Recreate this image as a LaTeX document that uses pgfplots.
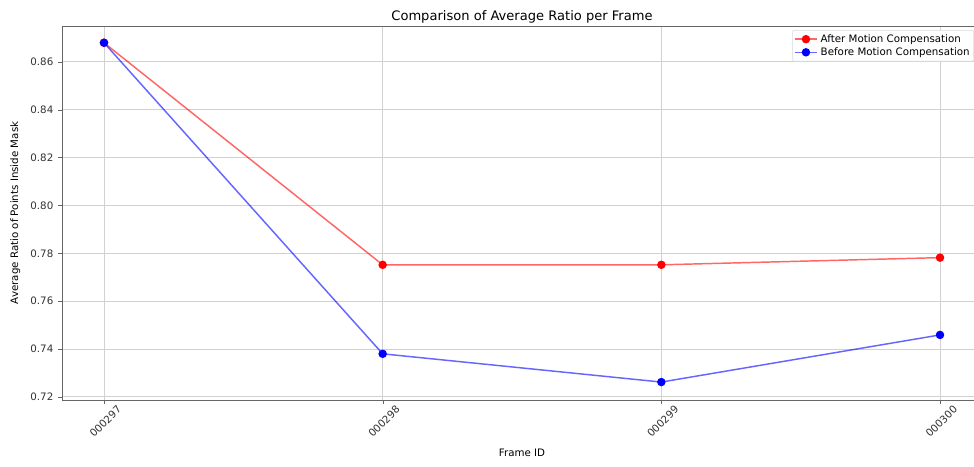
\documentclass[border=0pt]{standalone}
\usepackage{pgfplots}
\pgfplotsset{compat=1.18}
\usepackage{fontspec}
\setmainfont{DejaVu Sans}
\begin{document}
\begin{tikzpicture}
\begin{axis}[
  name=ax,
  scale only axis,
  width=690pt, height=280.5pt,
  xmin=-0.1507, xmax=3.1507,
  ymin=0.7187, ymax=0.875,
  xtick={0,1,2,3},
  xticklabels={000297,000298,000299,000300},
  ytick={0.72,0.74,0.76,0.78,0.80,0.82,0.84,0.86},
  yticklabel style={/pgf/number format/fixed,/pgf/number format/fixed zerofill,/pgf/number format/precision=2},
  /pgf/number format/assume math mode=true,
  tick label style={font=\fontsize{7.7}{9}\selectfont, text=black!80},
  xticklabel style={rotate=45, anchor=center, xshift=-8.5pt, yshift=-10pt},
  xtick pos=bottom, ytick pos=left,
  tick align=outside,
  major tick length=3pt,
  tick style={black!60},
  axis line style={black!60},
  grid=major,
  major grid style={black!18, line width=0.6pt},
  title={Comparison of Average Ratio per Frame},
  title style={font=\fontsize{9.8}{11}\selectfont, at={(axis description cs:0.5,1)}, anchor=center, yshift=1pt},
  xlabel={Frame ID},
  ylabel={Average Ratio of Points Inside Mask},
  label style={font=\fontsize{7.7}{9}\selectfont},
  xlabel style={at={(axis description cs:0.5,0)}, anchor=center, yshift=-39.5pt},
  ylabel style={at={(axis description cs:0,0.5)}, anchor=center, yshift=35pt},
  legend style={at={(axis description cs:1,1)}, anchor=north east, xshift=-6pt, yshift=-3pt, font=\fontsize{7.7}{9}\selectfont, draw=black!15, rounded corners=1pt, inner sep=1pt, row sep=-1.5pt},
  legend cell align=left,
]
\addplot[red, line width=1.1pt, draw opacity=0.6, mark=*, mark size=2.6pt, mark options={fill=red, draw=red, opacity=1}] coordinates {
  (0,0.868) (1,0.7752) (2,0.7752) (3,0.7782)
};
\addlegendentry{After Motion Compensation}
\addplot[blue, line width=1.1pt, draw opacity=0.6, mark=*, mark size=2.6pt, mark options={fill=blue, draw=blue, opacity=1}] coordinates {
  (0,0.868) (1,0.738) (2,0.7262) (3,0.7459)
};
\addlegendentry{Before Motion Compensation}
\end{axis}
\pgfresetboundingbox
\path[use as bounding box] ([shift={(-46.5pt,-49.5pt)}]ax.south west) rectangle ([shift={(684pt,19.5pt)}]ax.north west);
\end{tikzpicture}
\end{document}
